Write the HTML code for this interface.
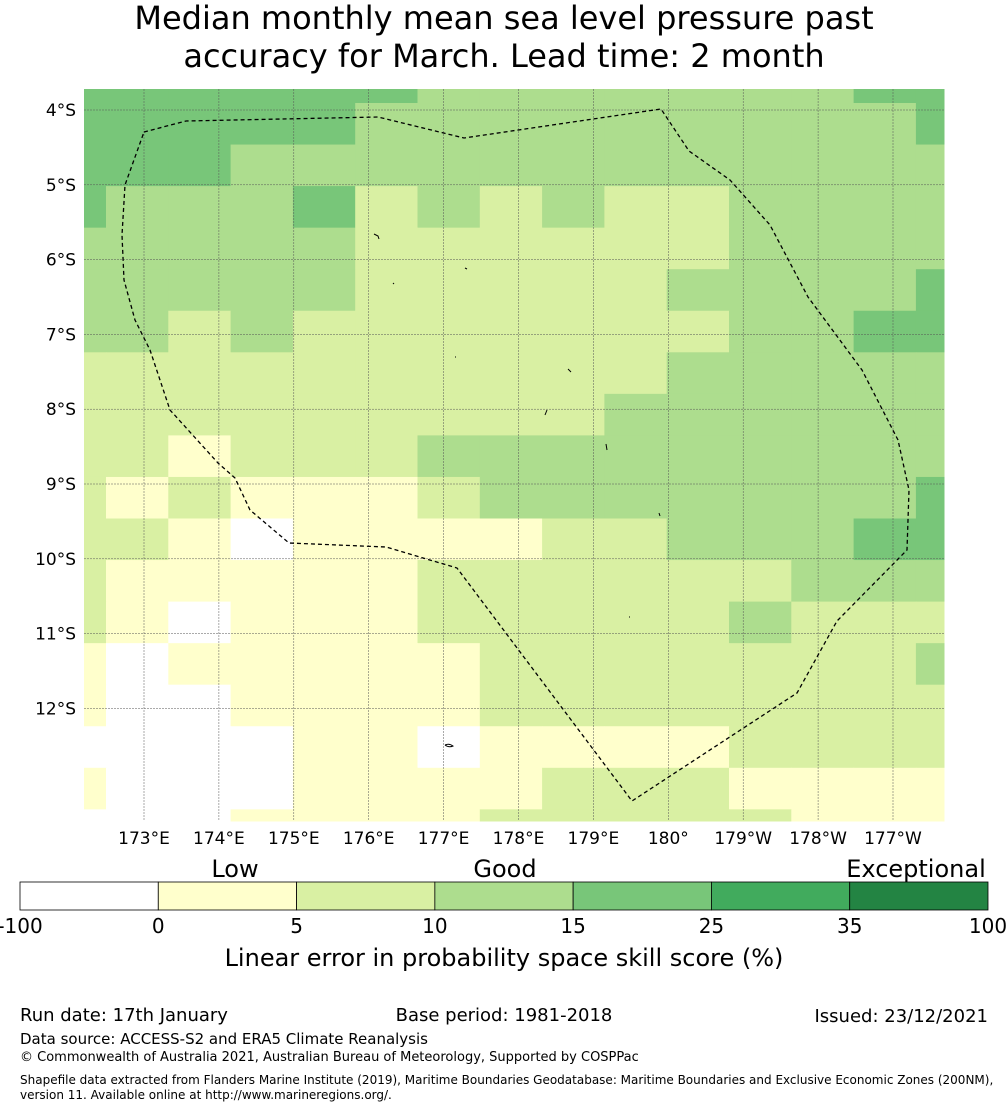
<!DOCTYPE html>
<html><head><meta charset="utf-8">
<style>
body{margin:0;background:#fff;font-family:"Liberation Sans","DejaVu Sans",sans-serif;}
svg text{font-family:"DejaVu Sans","Liberation Sans",sans-serif;}
</style></head>
<body>
<svg width="1008" height="1110" viewBox="0 0 1008 1110" xmlns="http://www.w3.org/2000/svg">
<g>
<text x="504" y="29" font-size="32" text-anchor="middle">Median monthly mean sea level pressure past</text>
<text x="504" y="67" font-size="32" text-anchor="middle">accuracy for March. Lead time: 2 month</text>
</g>
<g id="cells"></g>
<g id="grid"></g>
<polyline fill="none" stroke="#000" stroke-width="1.3" stroke-dasharray="4,3"
points="144,132 186,121 378,117 464,138 661,109 689,151 730,180 770,225 808,297 862,370 898,440 909,490 907,550 837,621 797,693 632,801 457,568 386,547 289,543 250,510 235,478 218,463 170,410 150,350 135,320 124,280 122,235 125,185 144,132"/>
<g stroke="#000" stroke-width="1" fill="none">
<path d="M374,234 l4,2 l1,3"/><path d="M465,268 l2,1"/><path d="M393,283 l1,1"/><path d="M455,357 l1,0"/><path d="M568,369 l3,3"/><path d="M547,410 l-2,5"/><path d="M606,444 l1,6"/><path d="M659,513 l1,3"/><path d="M629,617 l1,0"/><path d="M445,745 q4,-2 8,1 q-4,2 -8,-1"/>
</g>
<g id="axes"></g>
<g id="cbar"></g>
<g font-size="24">
<text x="235" y="877" text-anchor="middle">Low</text>
<text x="505" y="877" text-anchor="middle">Good</text>
<text x="916" y="877" text-anchor="middle">Exceptional</text>
</g>
<text x="504" y="966" font-size="24" text-anchor="middle">Linear error in probability space skill score (%)</text>
<g font-size="18">
<text x="20" y="1021">Run date: 17th January</text>
<text x="504" y="1021" text-anchor="middle">Base period: 1981-2018</text>
<text x="988" y="1022" text-anchor="end">Issued: 23/12/2021</text>
<text x="20" y="1044" font-size="15">Data source: ACCESS-S2 and ERA5 Climate Reanalysis</text>
<text x="20" y="1061" font-size="13">© Commonwealth of Australia 2021, Australian Bureau of Meteorology, Supported by COSPPac</text>
<text x="20" y="1084" font-size="12">Shapefile data extracted from Flanders Marine Institute (2019), Maritime Boundaries Geodatabase: Maritime Boundaries and Exclusive Economic Zones (200NM),</text>
<text x="20" y="1099" font-size="12">version 11. Available online at http://www.marineregions.org/.</text>
</g>
</svg>
<script>
const colors=["#ffffff","#ffffcc","#d9f0a3","#addd8e","#78c679","#41ab5d","#238443"];
const cbTicks=["-100","0","5","10","15","25","35","100"];
const lonLabels=["173°E","174°E","175°E","176°E","177°E","178°E","179°E","180°","179°W","178°W","177°W"];
const latLabels=["4°S","5°S","6°S","7°S","8°S","9°S","10°S","11°S","12°S"];
const gridRows=[
"444444333333344",
"444443333333334",
"444333333333333",
"433342323223333",
"333332222223333",
"333332222233334",
"332322222223344",
"222222222233333",
"222222222333333",
"221222333333333",
"212111233333334",
"221011112233344",
"211111222222333",
"210111222223222",
"101111122222223",
"100111122222222",
"000011011112222",
"100011112221111",
"000111122222111"];
const S=document.getElementById('cells'),NS="http://www.w3.org/2000/svg";
const colEdges=[84];for(let i=0;i<14;i++)colEdges.push(106+i*62.3);colEdges.push(944);
const rowEdges=[89];for(let i=0;i<18;i++)rowEdges.push(103+i*41.55);rowEdges.push(821);
gridRows.forEach((r,ri)=>{[...r].forEach((c,ci)=>{
 const e=document.createElementNS(NS,'rect');
 e.setAttribute('x',colEdges[ci]);e.setAttribute('y',rowEdges[ri]);
 e.setAttribute('width',colEdges[ci+1]-colEdges[ci]+0.5);e.setAttribute('height',rowEdges[ri+1]-rowEdges[ri]+0.5);
 e.setAttribute('fill',colors[+c]);
 
 
 S.appendChild(e);});});
const G=document.getElementById('grid'),A=document.getElementById('axes');
const lonX=i=>144+i*74.9, latY=i=>110+i*74.8;
lonLabels.forEach((l,i)=>{
 const ln=document.createElementNS(NS,'line');ln.setAttribute('x1',lonX(i));ln.setAttribute('x2',lonX(i));ln.setAttribute('y1',89);ln.setAttribute('y2',821);
 ln.setAttribute('stroke','#555');ln.setAttribute('stroke-width','0.5');ln.setAttribute('stroke-dasharray','2,1');
 
 
 G.appendChild(ln);
 const t=document.createElementNS(NS,'text');t.setAttribute('x',lonX(i));t.setAttribute('y',844);t.setAttribute('font-size','17');t.setAttribute('text-anchor','middle');t.textContent=l;
 
 
 A.appendChild(t);});
latLabels.forEach((l,i)=>{
 const ln=document.createElementNS(NS,'line');ln.setAttribute('y1',latY(i));ln.setAttribute('y2',latY(i));ln.setAttribute('x1',84);ln.setAttribute('x2',944);
 ln.setAttribute('stroke','#555');ln.setAttribute('stroke-width','0.5');ln.setAttribute('stroke-dasharray','2,1');
 
 
 G.appendChild(ln);
 const t=document.createElementNS(NS,'text');t.setAttribute('x',76);t.setAttribute('y',latY(i)+6);t.setAttribute('font-size','17');t.setAttribute('text-anchor','end');t.textContent=l;
 
 
 A.appendChild(t);});
const C=document.getElementById('cbar'),w=968/7;
colors.forEach((c,i)=>{const r=document.createElementNS(NS,'rect');r.setAttribute('x',20+i*w);r.setAttribute('y',882);r.setAttribute('width',w);r.setAttribute('height',28);r.setAttribute('fill',c);r.setAttribute('stroke','#000');r.setAttribute('stroke-width','0.8');
 
 
 C.appendChild(r);});
cbTicks.forEach((l,i)=>{const t=document.createElementNS(NS,'text');t.setAttribute('x',20+i*w);t.setAttribute('y',933);t.setAttribute('font-size','20');t.setAttribute('text-anchor','middle');t.textContent=l;
 
 
 C.appendChild(t);});
</script>
</body></html>
